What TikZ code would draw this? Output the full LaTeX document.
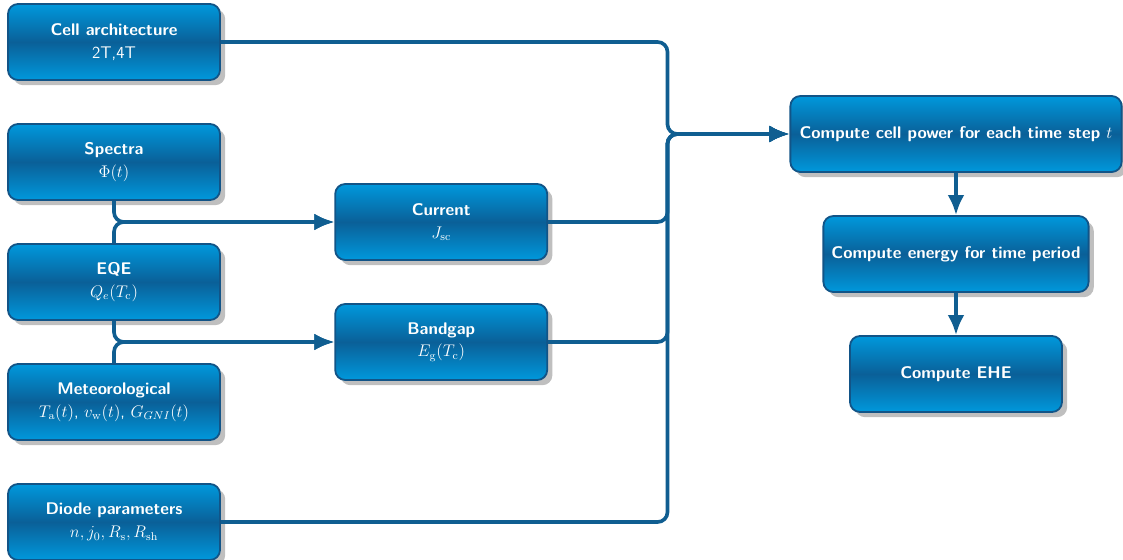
\documentclass[tikz,border=0pt]{standalone}
\usepackage{tikz}
\usetikzlibrary{positioning, arrows.meta, shadows}
\definecolor{boxtop}{RGB}{0,152,220}
\definecolor{boxmid}{RGB}{10,96,152}
\definecolor{boxedge}{RGB}{18,84,135}
\definecolor{wireblue}{RGB}{16,94,145}
\tikzstyle{block}=[draw=boxedge,line width=1.3pt,rectangle,rounded corners=0.25cm,top color=boxtop,bottom color=boxtop,middle color=boxmid,text=white,align=center,minimum width=5.3cm,minimum height=1.9cm,drop shadow={shadow xshift=0.13cm,shadow yshift=-0.13cm,fill=black!25,opacity=1}]
\tikzstyle{every node}=[font=\large\sffamily\linespread{1.15}\selectfont]
\tikzstyle{wire}=[draw=wireblue,line width=2.6pt,rounded corners=7pt]

\begin{document}
\begin{tikzpicture}[>={Latex[length=5mm,width=4.2mm]}, node distance=3cm]
            \useasboundingbox (0,0) rectangle (28.075,-14);
            % inputs
            \node[block] (cell) at (2.85,-1.05) {\textbf{Cell architecture}\\2T,4T};
            \node[block, below of=cell] (spectra) {\textbf{Spectra}\\$\Phi(t)$};
            \node[block, below of=spectra] (eqe) {\textbf{EQE}\\$Q_e(T_\mathrm{c})$};
            \node[block, below of=eqe] (meteo) {\textbf{Meteorological}\\$T_\mathrm{a}(t)$, $v_\mathrm{w}(t)$, $G_{GNI}(t)$};
            \node[block, below of=meteo] (diode) {\textbf{Diode parameters}\\$n, j_0, R_\mathrm{s}, R_\mathrm{sh}$};
            % intermediate
            \node[block] (current) at (11.03,-5.55) {\textbf{Current}\\$J_\mathrm{sc}$};
            \node[block, below of=current] (bandgap) {\textbf{Bandgap}\\$E_\mathrm{g}(T_\mathrm{c})$};
            % outputs
            \node[block, minimum width=8.28cm] (power) at (23.9,-3.35) {\textbf{Compute cell power for each time step $t$}};
            \node[block, minimum width=6.63cm, below of=power] (energy) {\textbf{Compute energy for time period}};
            \node[block, below of=energy] (ehe) {\textbf{Compute EHE}};
            \coordinate (join) at ([xshift=-3.05cm]power.west);
            \draw[wire, ->] (cell.east) -| (join) -- (power.west);
            \draw[wire, ->] (current.east) -| (join) -- (power.west);
            \draw[wire, ->] (bandgap.east) -| (join) -- (power.west);
            \draw[wire, ->] (diode.east) -| (join) -- (power.west);
            \draw[wire, ->] (spectra.south) |- (current.west);
            \draw[wire, ->] (eqe.north) |- (current.west);
            \draw[wire, ->] (eqe.south) |- (bandgap.west);
            \draw[wire, ->] (meteo.north) |- (bandgap.west);
            \draw[wire, ->] (power) -- (energy);
            \draw[wire, ->] (energy) -- (ehe);
        \end{tikzpicture}
\end{document}
